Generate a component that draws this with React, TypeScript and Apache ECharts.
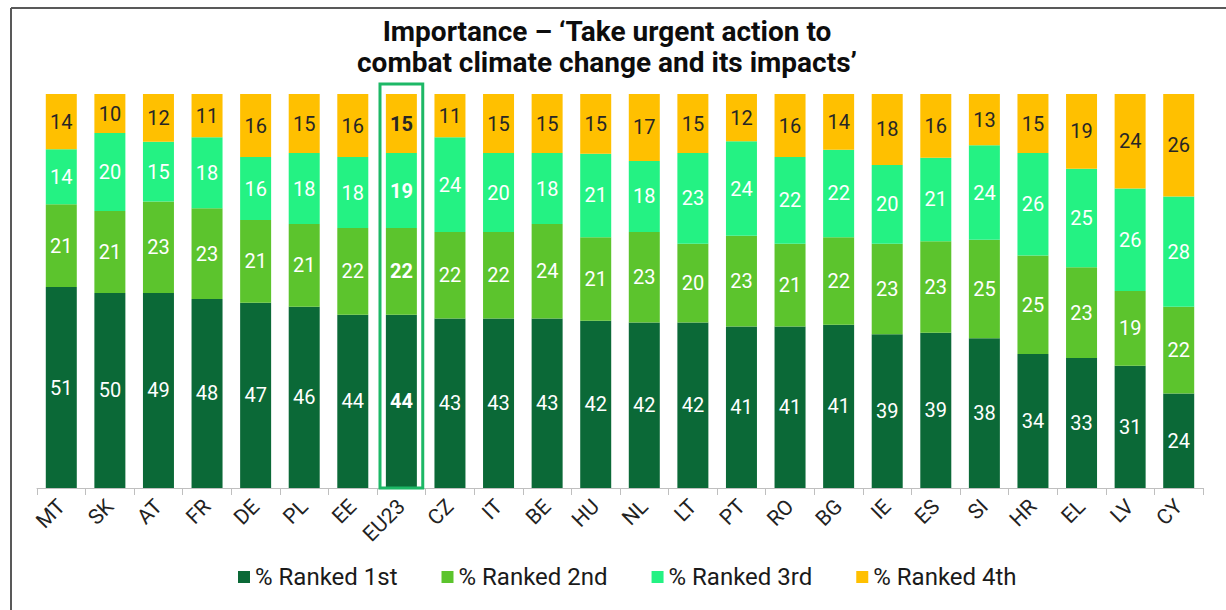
import React, { useEffect, useRef } from "react";
import * as echarts from "echarts";

const titleLines = ["Importance – ‘Take urgent action to", "combat climate change and its impacts’"];
const categories = ["MT", "SK", "AT", "FR", "DE", "PL", "EE", "EU23", "CZ", "IT", "BE", "HU", "NL", "LT", "PT", "RO", "BG", "IE", "ES", "SI", "HR", "EL", "LV", "CY"];
const ranked1 = [51, 50, 49, 48, 47, 46, 44, 44, 43, 43, 43, 42, 42, 42, 41, 41, 41, 39, 39, 38, 34, 33, 31, 24];
const ranked2 = [21, 21, 23, 23, 21, 21, 22, 22, 22, 22, 24, 21, 23, 20, 23, 21, 22, 23, 23, 25, 25, 23, 19, 22];
const ranked3 = [14, 20, 15, 18, 16, 18, 18, 19, 24, 20, 18, 21, 18, 23, 24, 22, 22, 20, 21, 24, 26, 25, 26, 28];
const ranked4 = [14, 10, 12, 11, 16, 15, 16, 15, 11, 15, 15, 15, 17, 15, 12, 16, 14, 18, 16, 13, 15, 19, 24, 26];
const seriesNames = ["% Ranked 1st", "% Ranked 2nd", "% Ranked 3rd", "% Ranked 4th"];
const highlightCategory = "EU23";

const colors = ["#0B6937", "#5CC42D", "#24F283", "#FFC000"];
const labelColors = ["#ffffff", "#ffffff", "#ffffff", "#262626"];

export default function App() {
  const ref = useRef<HTMLDivElement>(null);
  useEffect(() => {
    if (!ref.current) return;
    const chart = echarts.init(ref.current, null, { renderer: "svg" });
    const all = [ranked1, ranked2, ranked3, ranked4];
    const totals = categories.map((_, i) => all.reduce((s, a) => s + a[i], 0));
    const hiIdx = categories.indexOf(highlightCategory);
    const font = "Roboto, 'Noto Sans', sans-serif";

    const series = all.map((arr, si) => ({
      name: seriesNames[si],
      type: "bar",
      stack: "total",
      barWidth: 31,
      itemStyle: { color: colors[si] },
      label: {
        show: true,
        position: "inside",
        color: labelColors[si],
        fontSize: 20,
        fontFamily: font,
        formatter: (p: any) => String(arr[p.dataIndex]),
      },
      data: arr.map((v, i) => ({
        value: (v / totals[i]) * 100,
        label: i === hiIdx ? { fontWeight: "bold" } : undefined,
      })),
    }));

    const titleStyle = (t: string) => ({
      text: t,
      fill: "#0d0d0d",
      font: `bold 28px Roboto, 'Noto Sans', sans-serif`,
      textAlign: "center",
      textVerticalAlign: "middle",
    });

    chart.setOption({
      animation: false,
      textStyle: { fontFamily: font },
      grid: { left: 37, right: 23, top: 94, bottom: 122, containLabel: false },
      legend: {
        data: seriesNames,
        left: 233,
        top: 560,
        itemWidth: 12,
        itemHeight: 12,
        itemGap: 44,
        icon: "rect",
        textStyle: { fontSize: 24, color: "#1a1a1a", fontFamily: font },
      },
      xAxis: {
        type: "category",
        data: categories,
        axisLine: { lineStyle: { color: "#BFBFBF", width: 1 } },
        axisTick: { show: true, length: 7, lineStyle: { color: "#BFBFBF" } },
        axisLabel: { rotate: 45, fontSize: 21, color: "#222", margin: 15, interval: 0, fontFamily: font },
      },
      yAxis: { type: "value", min: 0, max: 100, show: false, splitLine: { show: false } },
      series,
      graphic: [
        {
          type: "line",
          shape: { x1: 11, y1: 8, x2: 1226, y2: 8 },
          style: { stroke: "#595959", lineWidth: 2 },
        },
        {
          type: "line",
          shape: { x1: 11, y1: 8, x2: 11, y2: 610 },
          style: { stroke: "#595959", lineWidth: 2 },
        },
        { type: "text", x: 607, y: 31, style: titleStyle(titleLines[0]) },
        { type: "text", x: 607, y: 62, style: titleStyle(titleLines[1]) },
      ],
    });

    const cx = chart.convertToPixel({ xAxisIndex: 0 }, highlightCategory) as number;
    const yTop = chart.convertToPixel({ yAxisIndex: 0 }, 100) as number;
    const yBottom = chart.convertToPixel({ yAxisIndex: 0 }, 0) as number;
    const x0 = chart.convertToPixel({ xAxisIndex: 0 }, categories[0]) as number;
    const x1 = chart.convertToPixel({ xAxisIndex: 0 }, categories[1]) as number;
    const band = x1 - x0;
    const w = band * 0.88;
    chart.setOption({
      graphic: [
        {
          id: "hl",
          type: "rect",
          shape: { x: cx - w / 2, y: yTop - 10, width: w, height: yBottom - yTop + 10 },
          style: { fill: "none", stroke: "#1DB866", lineWidth: 3 },
          z: 100,
        },
      ],
    });

    return () => chart.dispose();
  }, []);
  return <div ref={ref} style={{ position: "fixed", left: 0, top: 0, width: 1226, height: 610, background: "#fff" }} />;
}
